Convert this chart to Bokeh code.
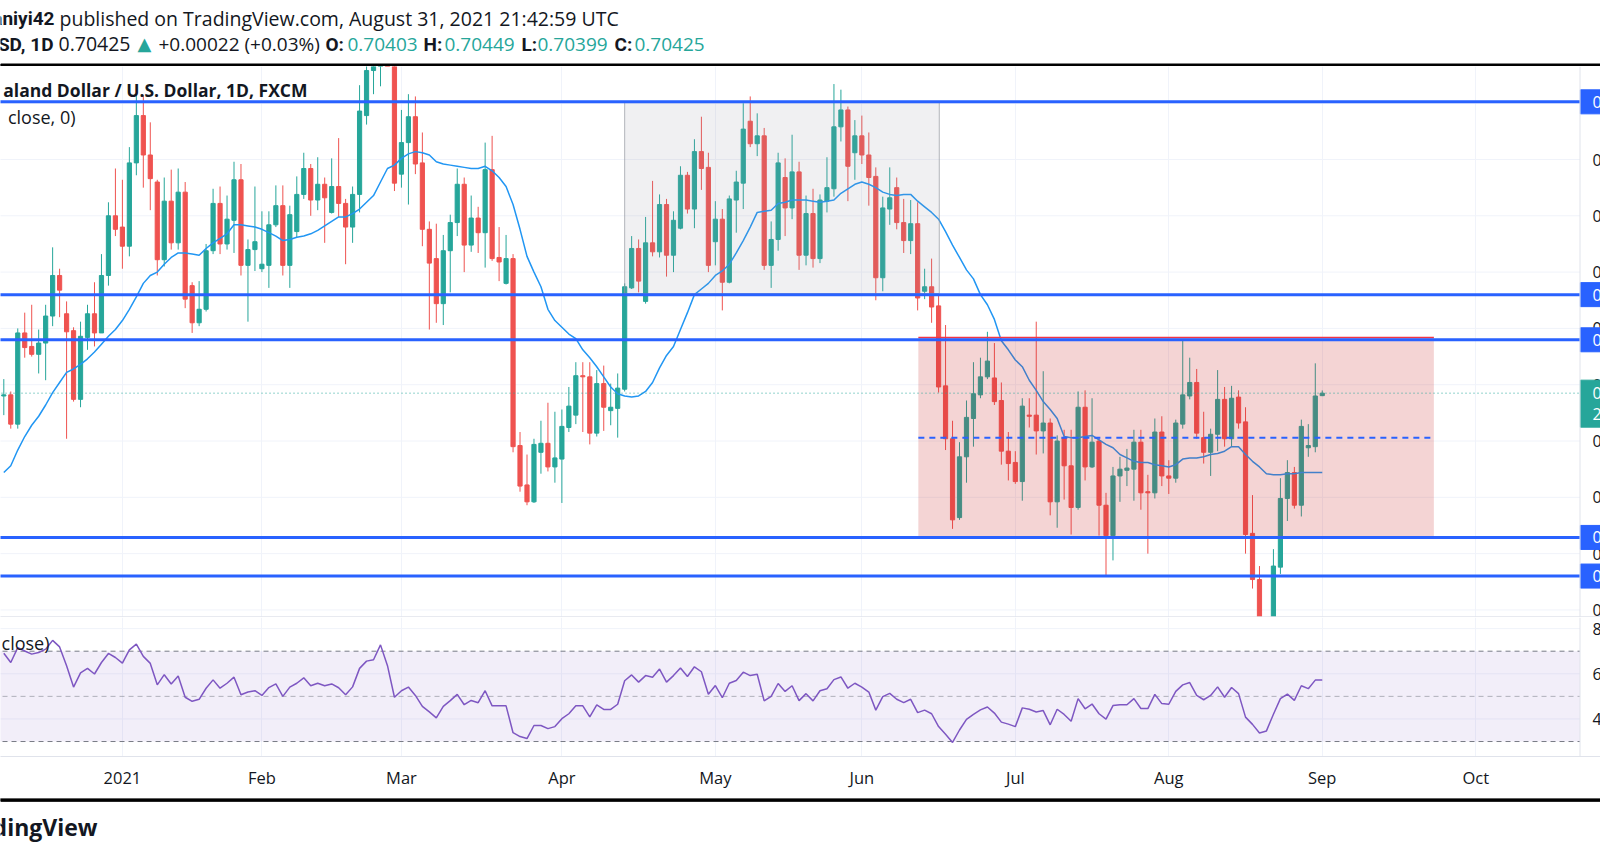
from bokeh.plotting import figure
from bokeh.layouts import column
from bokeh.models import Range1d, Grid, FixedTicker, Span, ColumnDataSource
from bokeh.embed import file_html
from bokeh.resources import INLINE
from bokeh.core.properties import value

# ---------------- data (NZD/USD daily, bar index 0 = 9 Dec 2020) ----------------
opens = [
    .7040, .7041, .7015, .7096, .7084, .7077, .7087, .7111, .7147, .7113,
    .7098, .7037, .7092, .7113, .7096, .7147, .7200, .7190, .7173, .7247,
    .7289, .7254, .7230, .7161, .7213, .7176, .7221, .7138, .7105, .7117,
    .7169, .7211, .7175, .7196, .7232, .7156, .7170, .7153, .7156, .7192,
    .7209, .7156, .7186, .7219, .7242, .7214, .7228, .7203, .7226, .7211,
    .7190, .7219, .7289, .7329, .7375, .7400, .7355, .7237, .7265, .7288,
    .7247, .7188, .7162, .7122, .7169, .7194, .7228, .7174, .7198, .7185,
    .7241, .7163, .7140, .7162, .6996, .6961, .6946, .6990, .6998, .6977,
    .6984, .7012, .7023, .7058, .7057, .7007, .7051, .7027, .7029, .7046,
    .7136, .7171, .7124, .7176, .7168, .7210, .7165, .7189, .7236, .7206,
    .7257, .7243, .7177, .7197, .7141, .7214, .7229, .7284, .7264, .7271,
    .7156, .7179, .7234, .7207, .7239, .7165, .7202, .7162, .7213, .7224,
    .7279, .7294, .7256, .7271, .7254, .7235, .7145, .7206, .7225, .7194,
    .7178, .7193, .7133, .7137, .7120, .7049, .7002, .6932, .6986, .7020,
    .7041, .7057, .7056, .7036, .6991, .6981, .6964, .7023, .7023, .7009,
    .7016, .6946, .7003, .6978, .6941, .7030, .6977, .7000, .6943, .6916,
    .6969, .6974, .6975, .6999, .6955, .6954, .7008, .6969, .6967, .7015,
    .7040, .7052, .7003, .6990, .7006, .7037, .7002, .7039, .7017, .6918,
    .6877, .6826, .6831, .6888, .6949, .6972, .6943, .6994, .6995, .70403,
]
highs = [
    .7055, .7044, .7100, .7114, .7121, .7099, .7121, .7172, .7153, .7124,
    .7101, .7106, .7121, .7141, .7166, .7212, .7242, .7232, .7261, .7307,
    .7307, .7283, .7232, .7234, .7241, .7242, .7230, .7141, .7142, .7175,
    .7224, .7226, .7218, .7248, .7246, .7179, .7226, .7204, .7204, .7227,
    .7227, .7209, .7235, .7256, .7246, .7252, .7234, .7251, .7269, .7215,
    .7226, .7316, .7345, .7390, .7420, .7465, .7368, .7294, .7308, .7306,
    .7274, .7195, .7193, .7183, .7201, .7242, .7234, .7218, .7208, .7265,
    .7271, .7190, .7183, .7166, .7008, .6988, .7002, .7018, .7034, .7026,
    .7028, .7048, .7070, .7070, .7070, .7063, .7067, .7051, .7060, .7140,
    .7182, .7179, .7199, .7231, .7219, .7215, .7204, .7244, .7239, .7268,
    .7288, .7256, .7213, .7206, .7218, .7240, .7300, .7306, .7291, .7278,
    .7195, .7256, .7251, .7272, .7248, .7218, .7224, .7219, .7252, .7317,
    .7312, .7297, .7285, .7289, .7274, .7243, .7217, .7243, .7234, .7215,
    .7214, .7212, .7153, .7162, .7129, .7103, .7018, .6999, .7036, .7070,
    .7074, .7097, .7087, .7052, .7008, .6991, .7038, .7038, .7106, .7062,
    .7020, .7005, .7010, .7010, .7044, .7045, .7038, .7003, .6954, .6977,
    .6986, .6993, .7010, .7010, .6970, .7020, .7022, .6983, .7019, .7089,
    .7074, .7064, .7026, .7011, .7063, .7048, .7049, .7045, .7030, .6952,
    .6889, .6840, .6904, .6967, .6983, .6977, .7019, .7015, .7069, .70449,
]
lows = [
    .7023, .7011, .7011, .7074, .7075, .7060, .7054, .7102, .7110, .7002,
    .7035, .7030, .7081, .7084, .7096, .7138, .7182, .7153, .7164, .7236,
    .7225, .7205, .7147, .7155, .7170, .7170, .7118, .7096, .7102, .7115,
    .7166, .7166, .7170, .7167, .7147, .7106, .7151, .7150, .7136, .7190,
    .7147, .7136, .7181, .7215, .7200, .7205, .7176, .7202, .7199, .7157,
    .7176, .7203, .7281, .7308, .7315, .7345, .7222, .7225, .7210, .7237,
    .7173, .7099, .7105, .7103, .7132, .7182, .7150, .7168, .7167, .7154,
    .7160, .7142, .7139, .6990, .6955, .6943, .6945, .6971, .6973, .6963,
    .6945, .7008, .7015, .7008, .6997, .7004, .7009, .7014, .7003, .7044,
    .7135, .7132, .7122, .7164, .7163, .7146, .7150, .7188, .7202, .7189,
    .7223, .7150, .7156, .7116, .7140, .7185, .7206, .7261, .7253, .7152,
    .7136, .7169, .7182, .7197, .7152, .7156, .7154, .7158, .7203, .7217,
    .7266, .7213, .7232, .7246, .7209, .7125, .7133, .7192, .7188, .7167,
    .7166, .7116, .7126, .7105, .7043, .6992, .6922, .6930, .6963, .6995,
    .7038, .7055, .7032, .6979, .6965, .6962, .6947, .7012, .6988, .6989,
    .6934, .6923, .6948, .6917, .6939, .6965, .6976, .6916, .6881, .6894,
    .6946, .6960, .6947, .6939, .6900, .6949, .6960, .6953, .6963, .7011,
    .7037, .7002, .6980, .6969, .6991, .6995, .6995, .7011, .6900, .6869,
    .6818, .6806, .6824, .6882, .6929, .6940, .6933, .6986, .6990, .70399,
]
closes = [
    .7041, .7015, .7096, .7083, .7077, .7087, .7111, .7147, .7134, .7097,
    .7037, .7093, .7113, .7096, .7147, .7200, .7188, .7173, .7247, .7289,
    .7254, .7233, .7161, .7213, .7176, .7221, .7126, .7105, .7117, .7169,
    .7211, .7175, .7197, .7232, .7156, .7170, .7177, .7157, .7192, .7209,
    .7156, .7201, .7219, .7242, .7214, .7228, .7216, .7226, .7211, .7190,
    .7219, .7293, .7329, .7375, .7400, .7355, .7229, .7265, .7288, .7246,
    .7188, .7158, .7122, .7169, .7194, .7228, .7174, .7198, .7185, .7241,
    .7162, .7159, .7162, .6995, .6960, .6946, .6997, .6998, .6977, .6985,
    .7013, .7031, .7058, .7057, .7007, .7051, .7030, .7030, .7047, .7137,
    .7171, .7142, .7176, .7168, .7210, .7165, .7196, .7236, .7206, .7257,
    .7242, .7156, .7197, .7141, .7215, .7230, .7277, .7264, .7271, .7156,
    .7179, .7247, .7207, .7239, .7165, .7202, .7162, .7214, .7225, .7279,
    .7294, .7244, .7271, .7254, .7234, .7145, .7207, .7216, .7194, .7178,
    .7193, .7127, .7137, .7119, .7048, .7002, .6930, .6986, .7021, .7042,
    .7057, .7071, .7035, .6991, .6980, .6964, .7031, .7022, .7009, .7016,
    .6946, .7000, .6978, .6941, .7030, .6977, .6999, .6943, .6916, .6969,
    .6975, .6976, .6999, .6954, .6954, .7008, .6969, .6967, .7016, .7041,
    .7052, .7007, .6990, .7006, .7037, .7002, .7038, .7016, .6917, .6877,
    .6826, .6831, .6889, .6949, .6972, .6943, .7013, .6996, .7040, .70425,
]
# moving average (price x 10000)
ma_pips = [
    6972, 6978, 6992, 7004, 7014, 7022, 7032, 7043, 7052, 7061,
    7064, 7068, 7073, 7079, 7086, 7093, 7099, 7107, 7117, 7128,
    7140, 7147, 7150, 7157, 7163, 7167, 7167, 7166, 7165, 7171,
    7176, 7180, 7184, 7192, 7192, 7191, 7190, 7188, 7185, 7182,
    7178, 7179, 7181, 7182, 7184, 7187, 7191, 7195, 7199, 7199,
    7202, 7206, 7212, 7218, 7230, 7242, 7245, 7251, 7255, 7257,
    7256, 7254, 7248, 7246, 7245, 7244, 7243, 7242, 7242, 7244,
    7240, 7234, 7226, 7210, 7188, 7164, 7150, 7137, 7117, 7107,
    7101, 7095, 7091, 7081, 7074, 7066, 7057, 7048, 7042, 7040,
    7039, 7040, 7044, 7052, 7065, 7076, 7084, 7099, 7114, 7130,
    7135, 7140, 7147, 7151, 7157, 7167, 7178, 7190, 7203, 7204,
    7205, 7211, 7212, 7214, 7214, 7214, 7213, 7212, 7213, 7214,
    7220, 7224, 7228, 7230, 7228, 7225, 7221, 7219, 7218, 7219,
    7219, 7213, 7208, 7203, 7197, 7186, 7174, 7163, 7152, 7144,
    7130, 7121, 7108, 7089, 7081, 7072, 7066, 7054, 7045, 7035,
    7028, 7020, 7004, 7003, 7003, 7004, 7005, 7001, 6997, 6994,
    6988, 6985, 6982, 6981, 6981, 6979, 6978, 6977, 6979, 6984,
    6985, 6985, 6986, 6988, 6989, 6991, 6995, 6995, 6988, 6982,
    6977, 6971, 6970, 6970, 6971, 6971, 6972, 6972, 6972, 6972,
]
rsi_vals = [
    69.1, 65.0, 71.6, 70.1, 68.7, 69.4, 70.9, 74.8, 71.9, 63.6,
    54.1, 60.4, 62.4, 59.9, 65.0, 69.0, 67.2, 64.7, 70.6, 73.1,
    67.7, 64.6, 55.1, 59.6, 55.5, 59.0, 49.6, 47.8, 48.7, 53.6,
    57.3, 53.6, 55.8, 58.5, 50.7, 51.9, 52.5, 50.4, 53.9, 55.5,
    50.0, 54.1, 55.8, 58.2, 54.7, 55.8, 54.7, 55.5, 53.8, 50.7,
    54.2, 62.4, 65.6, 66.2, 72.8, 63.6, 49.6, 52.5, 54.1, 50.4,
    45.6, 43.1, 40.5, 45.6, 48.1, 50.9, 46.3, 48.2, 47.2, 52.5,
    45.8, 45.8, 45.8, 33.9, 32.2, 31.3, 37.1, 37.1, 35.7, 36.6,
    40.1, 42.3, 45.8, 45.8, 40.9, 46.2, 44.2, 44.2, 46.5, 56.9,
    59.5, 56.3, 59.2, 58.5, 62.1, 56.3, 59.2, 62.6, 58.8, 63.1,
    60.9, 50.9, 54.8, 49.4, 55.8, 57.0, 60.7, 59.2, 59.8, 48.0,
    50.0, 55.7, 52.2, 54.7, 48.1, 51.2, 48.0, 52.5, 53.4, 57.4,
    58.6, 53.6, 55.8, 54.1, 51.9, 43.9, 49.9, 51.3, 48.7, 47.2,
    48.7, 42.8, 43.9, 42.3, 36.6, 33.2, 29.6, 35.1, 39.8, 42.0,
    44.0, 45.3, 42.6, 38.6, 37.7, 36.6, 44.9, 44.3, 43.1, 43.7,
    37.4, 44.3, 42.0, 39.0, 49.0, 44.5, 46.6, 42.3, 39.9, 45.9,
    46.3, 46.3, 49.0, 44.6, 44.6, 50.9, 46.8, 46.5, 52.2, 55.1,
    56.1, 50.4, 48.5, 50.4, 54.2, 49.6, 53.9, 51.2, 40.8, 37.6,
    33.8, 34.7, 42.1, 49.0, 51.0, 48.2, 54.7, 53.4, 57.2, 57.3,
]
month_idx = [17, 37, 57, 80, 102, 123, 145, 167, 189, 211]
month_labels = ["2021", "Feb", "Mar", "Apr", "May", "Jun", "Jul", "Aug", "Sep", "Oct"]
price_ticks = [0.685, 0.690, 0.695, 0.700, 0.705, 0.710, 0.715, 0.720, 0.725, 0.730]
levels = [0.73012, 0.71300, 0.70899, 0.69144, 0.68801]
gray_box = [89.0, 134.1, 0.7301, 0.7131]      # left, right, top, bottom
pink_box = [131.1, 205.0, 0.7092, 0.6914]
last_close = 0.70425
rsi_ticks = [40, 60, 80]

# ---------------- layout helpers ----------------
FONT = value("Open Sans")
BOLD = value("Roboto")
DARK = "#131722"
UP, DOWN = "#26a69a", "#ef5350"
GRID = "#f0f3fa"
W = 1600
BAR_PX, BAR0_X = 6.976, 3.3


def ix(px):
    return (px - BAR0_X) / BAR_PX


X0, X1 = ix(0), ix(1600)
BORDER = ix(1579.5)
xr = Range1d(X0, X1)
PXP = 8.88e-5


def py(y):
    return 0.7250 - (y - 159) * PXP


def ry(y):
    return 70 - (y - 650.7) / 2.258


def base_fig(h, xrange, yrange, **kw):
    f = figure(width=W, height=h, x_range=xrange, y_range=yrange, toolbar_location=None,
               output_backend="svg", min_border=0, outline_line_color=None,
               background_fill_color="white", border_fill_color="white", **kw)
    for g in f.grid:
        g.grid_line_color = None
    return f


# ---------------- header ----------------
hdr = base_fig(66, Range1d(0, 1600), Range1d(66, 0), x_axis_location=None, y_axis_location=None)
hdr.quad(left=[0], right=[1600], top=[63.5], bottom=[66.5], color="black")
tk = dict(text_baseline="middle", text_color=DARK)
hdr.text(x=[54], y=[17.5], text=["aniyi42"], text_align="right", text_font=BOLD, text_font_style="bold",
         text_font_size="19px", **tk)
hdr.text(x=[59], y=[17.5], text=["published on TradingView.com, August 31, 2021 21:42:59 UTC"],
         text_font=FONT, text_font_size="19.5px", **tk)
hdr.text(x=[53], y=[43.5], text=["SD, 1D"], text_align="right", text_font=BOLD, text_font_style="bold",
         text_font_size="19px", **tk)
hdr.text(x=[58], y=[43.5], text=["0.70425"], text_font=FONT, text_font_size="19.5px", **tk)
hdr.text(x=[158], y=[43.5], text=["+0.00022 (+0.03%)"], text_font=FONT, text_font_size="19px", **tk)
hdr.text(x=[325, 423, 521, 614], y=[43.5] * 4, text=["O:", "H:", "L:", "C:"], text_font=BOLD,
         text_font_style="bold", text_font_size="19px", **tk)
hdr.text(x=[347, 444, 537, 634], y=[43.5] * 4, text=["0.70403", "0.70449", "0.70399", "0.70425"],
         text_font=FONT, text_font_size="19px", text_baseline="middle", text_color=UP)
hdr.text(x=[137], y=[43], text=["▲"], text_font=value("DejaVu Sans"), text_font_size="18px",
         text_baseline="middle", text_color=UP)

# ---------------- main price pane ----------------
main = base_fig(551, xr, Range1d(py(617), py(66)), x_axis_location=None, y_axis_location=None)
main.add_layout(Grid(dimension=0, ticker=FixedTicker(ticks=month_idx), grid_line_color=GRID))
n = len(price_ticks)
main.segment(x0=[X0 - 1] * n, x1=[BORDER] * n, y0=price_ticks, y1=price_ticks, color=GRID, line_width=1)

idx = list(range(len(closes)))
cols = [UP if c >= o else DOWN for o, c in zip(opens, closes)]
src = ColumnDataSource(dict(x=idx, h=highs, l=lows,
                            top=[max(o, c) for o, c in zip(opens, closes)],
                            bot=[min(o, c) for o, c in zip(opens, closes)], color=cols))
main.segment(x0="x", y0="l", x1="x", y1="h", color="color", line_width=1, source=src)
main.vbar(x="x", width=0.6, top="top", bottom="bot", fill_color="color", line_color="color",
          line_width=1, source=src)
main.line(idx, [v / 10000 for v in ma_pips], color="#2196f3", line_width=1.5)

# drawings
gl, gr, gt, gb = gray_box
main.quad(left=[gl], right=[gr], top=[gt], bottom=[gb], fill_color="#9598a1", fill_alpha=0.14,
          line_color="#9598a1", line_alpha=0.7, line_width=1)
pl, pr, pt, pb = pink_box
main.quad(left=[pl], right=[pr], top=[pt], bottom=[pb], fill_color="#c62828", fill_alpha=0.2, line_color=None)
main.segment(x0=[pl, pl], x1=[pr, pr], y0=[pt, pb], y1=[pt, pb], color="#f23645", line_width=1.5)
main.segment(x0=[X0 - 1] * len(levels), x1=[BORDER] * len(levels), y0=levels, y1=levels,
             color="#2962ff", line_width=3)
mid = (pt + pb) / 2
main.segment(x0=[pl], x1=[pr], y0=[mid], y1=[mid], color="#2962ff", line_width=2, line_dash="6 5")
main.segment(x0=[X0 - 1], x1=[BORDER], y0=[last_close], y1=[last_close], color=UP, line_width=1,
             line_dash="1 3")
main.segment(x0=[X0 - 1], x1=[X1 + 1], y0=[py(616.5)], y1=[py(616.5)], color="#e0e3eb", line_width=1.5)

# price scale (cut by the picture's right edge, as in the reference)
main.add_layout(Span(location=BORDER, dimension="height", line_color="#e0e3eb", line_width=1))
lx = ix(1592)
main.text(x=[lx] * n, y=price_ticks, text=[f"{t:.5f}" for t in price_ticks], text_font=FONT,
          text_font_size="16px", text_color=DARK, text_baseline="middle")
hh = 12 * PXP
main.quad(left=[BORDER + 0.05] * len(levels), right=[X1 + 1] * len(levels),
          top=[v + hh for v in levels], bottom=[v - hh for v in levels], color="#2962ff")
main.text(x=[lx] * len(levels), y=levels, text=[f"{v:.5f}" for v in levels], text_font=FONT,
          text_font_size="16px", text_color="white", text_baseline="middle")
main.quad(left=[BORDER + 0.05], right=[X1 + 1], top=[last_close + 13 * PXP], bottom=[last_close - 34 * PXP],
          color=UP)
main.text(x=[lx, lx], y=[last_close, last_close - 21 * PXP], text=["0.70425", "23:17:01"], text_font=FONT,
          text_font_size="16px", text_color="white", text_baseline="middle")

# legend
main.text(x=[ix(307)], y=[py(89.5)], text=["aland Dollar / U.S. Dollar, 1D, FXCM"], text_align="right",
          text_font=FONT, text_font_size="17.5px", text_font_style="bold", text_color=DARK,
          text_baseline="middle")
main.text(x=[ix(75)], y=[py(116)], text=["close, 0)"], text_align="right",
          text_font=FONT, text_font_size="18px", text_color=DARK, text_baseline="middle")

# ---------------- RSI pane + time axis ----------------
rsi = base_fig(181, xr, Range1d(ry(756), ry(617)), y_axis_location=None, min_border_bottom=42)
rsi.xaxis.ticker = FixedTicker(ticks=month_idx)
rsi.xaxis.major_label_overrides = {t: l for t, l in zip(month_idx, month_labels)}
rsi.xaxis.major_label_text_font = "Open Sans"
rsi.xaxis.major_label_text_font_size = "16.5px"
rsi.xaxis.major_label_text_color = DARK
rsi.xaxis.major_label_standoff = 3
rsi.xaxis.axis_line_color = "#e0e3eb"
rsi.xaxis.major_tick_line_color = None
rsi.xaxis.minor_tick_line_color = None
rsi.xgrid.grid_line_color = GRID
m = len(rsi_ticks)
rsi.segment(x0=[X0 - 1] * m, x1=[BORDER] * m, y0=rsi_ticks, y1=rsi_ticks, color=GRID, line_width=1)
rsi.quad(left=[X0 - 1], right=[BORDER], top=[70], bottom=[30], fill_color="#7e57c2", fill_alpha=0.1,
         line_color=None)
rsi.segment(x0=[X0 - 1] * 2, x1=[BORDER] * 2, y0=[70, 30], y1=[70, 30], color="#787b86", line_width=1,
            line_dash="5 4")
rsi.segment(x0=[X0 - 1], x1=[BORDER], y0=[50], y1=[50], color="#787b86", line_alpha=0.55, line_width=1,
            line_dash="5 4")
rsi.line(idx, rsi_vals, color="#7e57c2", line_width=1.5)
rsi.add_layout(Span(location=BORDER, dimension="height", line_color="#e0e3eb", line_width=1))
rsi.text(x=[lx] * m, y=rsi_ticks, text=[str(t) for t in rsi_ticks], text_font=FONT, text_font_size="16px",
         text_color=DARK, text_baseline="middle")
rsi.text(x=[ix(49)], y=[ry(642)], text=["close)"], text_align="right", text_font=FONT,
         text_font_size="18px", text_color=DARK, text_baseline="middle")

# ---------------- footer ----------------
ftr = base_fig(56, Range1d(0, 1600), Range1d(854, 798), x_axis_location=None, y_axis_location=None)
ftr.quad(left=[0], right=[1600], top=[797.5], bottom=[800.8], color="black")
ftr.text(x=[97], y=[826], text=["TradingView"], text_align="right", text_font=FONT, text_font_size="23px",
         text_font_style="bold", text_color=DARK, text_baseline="middle")

page = column(hdr, main, rsi, ftr, spacing=0)
open("out.html", "w").write(file_html(page, INLINE))
